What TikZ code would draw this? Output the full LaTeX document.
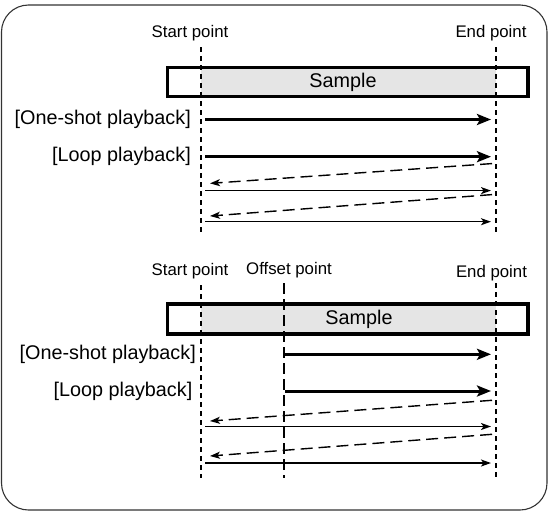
\documentclass[tikz,border=0pt]{standalone}
\usepackage{fontspec}
\setmainfont{Liberation Sans}
\usetikzlibrary{arrows.meta}
\usetikzlibrary{positioning}
\tikzset{>=stealth}

\begin{document}
\begin{tikzpicture}
	[x=1pt,y=-1pt,inner sep=0pt,
	pointtext/.style={font=\fontsize{16.8}{18}\selectfont},
	modetext/.style={font=\fontsize{19.8}{21}\selectfont,anchor=east},
	samplefill/.style={fill=gray!20},
	samplebox/.style={draw,line width=3.2pt},
	markline/.style={line width=2.5pt,dash pattern=on 5pt off 4pt},
	offsetline/.style={line width=2.6pt,dash pattern=on 11pt off 5pt},
	thickarrow/.style={line width=3pt,-{Stealth[length=14pt,width=11pt,inset=3pt]}},
	thinarrow/.style={line width=1.4pt,-{Stealth[length=10pt,width=7pt,inset=2.5pt]}},
	backarrow/.style={line width=1.4pt,dash pattern=on 12pt off 6pt,-{Stealth[length=10pt,width=7pt,inset=2.5pt]}}]
	\useasboundingbox (0,0) rectangle (551,517);
	\draw[black!80,line width=1.1pt,rounded corners=27pt] (1.5,5) rectangle (547,510);
	% upper part
	\node [pointtext] (startA) at (190,33) {Start point};
	\node [pointtext] (endA) at (491,33.5) {End point};
	\coordinate (startAtop) at (201,47);
	\coordinate (startAbot) at (201,232);
	\coordinate (endAtop) at (496,47);
	\coordinate (endAbot) at (496,232);
	\fill [samplefill] (201,67.2) rectangle (496,96.5);
	\draw [samplebox] (167.5,67.2) rectangle (528,96.5);
	\node (sampleA) at (343,82) {\fontsize{19.8}{21}\selectfont Sample};
	\node [modetext] (oneA) at (191,119.5) {[One-shot playback]};
	\node [modetext] (loopA) at (191,156.7) {[Loop playback]};
	\coordinate (backA1) at (0,163.3);
	\coordinate (backA1e) at (0,184);
	\coordinate (thinA1) at (0,190.6);
	\coordinate (backA2) at (0,194.3);
	\coordinate (backA2e) at (0,216.7);
	\coordinate (thinA2) at (0,221.7);
	\draw [markline] (startAtop) -- (startAbot);
	\draw [markline] (endAtop) -- (endAbot);
	\draw [thickarrow,shorten <=4pt,shorten >=5pt] (startAtop |- oneA) -- (endAtop |- oneA);
	\draw [thickarrow,shorten <=4pt,shorten >=5pt] (startAtop |- loopA) -- (endAtop |- loopA);
	\draw [backarrow,shorten <=4pt,shorten >=9pt] (endAtop |- backA1) -- (startAtop |- backA1e);
	\draw [thinarrow,shorten <=4pt,shorten >=5pt] (startAtop |- thinA1) -- (endAtop |- thinA1);
	\draw [backarrow,shorten <=4pt,shorten >=9pt] (endAtop |- backA2) -- (startAtop |- backA2e);
	\draw [thinarrow,shorten <=4pt,shorten >=5pt] (startAtop |- thinA2) -- (endAtop |- thinA2);
	% lower part
	\node [pointtext] (startB) at (190,271) {Start point};
	\node [pointtext] (offsetB) at (289,270) {Offset point};
	\node [pointtext] (endB) at (491.5,273.3) {End point};
	\coordinate (startBtop) at (201,285);
	\coordinate (startBbot) at (201,478);
	\coordinate (offsetBtop) at (284,283);
	\coordinate (offsetBbot) at (284,478);
	\coordinate (endBtop) at (496,283);
	\coordinate (endBbot) at (496,478);
	\fill [samplefill] (201,304) rectangle (496,334);
	\draw [samplebox] (167.5,304) rectangle (528,334);
	\node (sampleB) at (359,319.5) {\fontsize{19.8}{21}\selectfont Sample};
	\node [modetext] (oneB) at (196,354.3) {[One-shot playback]};
	\node [modetext] (loopB) at (192.5,391) {[Loop playback]};
	\coordinate (backB1) at (0,400);
	\coordinate (backB1e) at (0,421.7);
	\coordinate (thinB1) at (0,426.5);
	\coordinate (backB2) at (0,434);
	\coordinate (backB2e) at (0,456.7);
	\coordinate (thinB2) at (0,463);
	\draw [markline] (startBtop) -- (startBbot);
	\draw [offsetline] (offsetBtop) -- (offsetBbot);
	\draw [markline] (endBtop) -- (endBbot);
	\draw [thickarrow,shorten <=1pt,shorten >=5pt] (offsetBtop |- oneB) -- (endBtop |- oneB);
	\draw [thickarrow,shorten <=1pt,shorten >=5pt] (offsetBtop |- loopB) -- (endBtop |- loopB);
	\draw [backarrow,shorten <=4pt,shorten >=9pt] (endBtop |- backB1) -- (startBtop |- backB1e);
	\draw [thinarrow,shorten <=4pt,shorten >=5pt] (startBtop |- thinB1) -- (endBtop |- thinB1);
	\draw [backarrow,shorten <=4pt,shorten >=9pt] (endBtop |- backB2) -- (startBtop |- backB2e);
	\draw [thinarrow,shorten <=4pt,shorten >=5pt] (startBtop |- thinB2) -- (endBtop |- thinB2);
\end{tikzpicture}
\end{document}
